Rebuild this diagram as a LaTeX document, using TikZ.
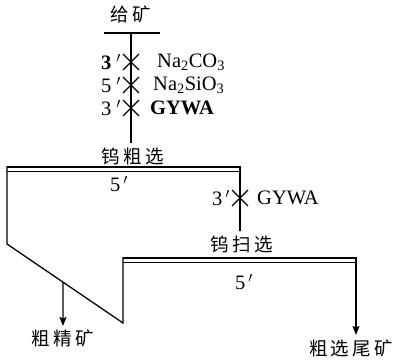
\documentclass[tikz,border=0pt]{standalone}
\usepackage{fontspec}
\setmainfont{Liberation Serif}
\newfontfamily\cjk{Noto Sans CJK SC}[LetterSpace=18]
\usetikzlibrary{arrows.meta,shapes.misc,calc}

\begin{document}
\begin{tikzpicture}[
  x=1pt,y=-1pt, font=\fontsize{20.5}{24}\selectfont, line cap=butt,
  pipe/.style   ={line width=1.3pt},
  pipeout/.style={pipe, -{Stealth[length=9pt,width=7pt,inset=1.5pt]}},
  bartop/.style ={line width=2.2pt},
  barbot/.style ={line width=1.4pt},
  addx/.style   ={draw, cross out, line width=1.3pt, minimum size=14.5pt, inner sep=0pt},
  cn/.style     ={font=\fontsize{18.5}{22}\selectfont\cjk, inner sep=0pt},
  lbl/.style    ={inner sep=0pt},
]

\useasboundingbox (0,0) rectangle (396,359);

% ----- feed and reagents ------------------------------------------------
\node[cn] (feed) at (131,14) {给矿};
\coordinate (feedL) at (104,33);
\coordinate (feedR) at (160,33);
\coordinate (feedM) at (131,33);
\coordinate (roughIn) at (131,143);
\draw[pipe] (feedL) -- (feedR);
\draw[pipe] (feedM) -- (roughIn);

\foreach \y/\tm/\rg/\xr [count=\i] in
    {62/{\bfseries 3}/{Na\textsubscript{2}CO\textsubscript{3}}/157,
     85/5/{Na\textsubscript{2}SiO\textsubscript{3}}/153,
     108/3/{\bfseries GYWA}/150}{
  \node[addx] (add\i) at (131,\y) {};
  \node[lbl,anchor=east] (time\i) at (121,\y) {\tm\hspace{5pt}$'$};
  \node[lbl,anchor=west] (reag\i) at (\xr,\y) {\rg};
}

% ----- tungsten roughing ------------------------------------------------
\node[cn] (rough) at (133,156) {钨粗选};
\draw[bartop] (7,167) -- (240,167);
\draw[barbot] (7,171.5) -- (240,171.5);
\node[lbl] (roughT) at (119,184) {5\hspace{3pt}$'$};

\coordinate (rL)  at (7,166);
\coordinate (rLb) at (7,244);
\coordinate (rTip) at (123,323);
\coordinate (sL)  at (123,257);
\draw[pipe] (rL) -- (rLb) -- (rTip) -- (sL);

% concentrate off the slope
\coordinate (conc) at ($(rLb)!0.483!(rTip)$);
\node[cn] (roughConc) at (63,338) {粗精矿};
\draw[pipeout] (conc) -- (63,326);

% ----- scavenging -------------------------------------------------------
\coordinate (rR)  at (240,166);
\coordinate (scIn) at (240,231);
\draw[pipe] (rR) -- (scIn);
\node[addx] (add4) at (240,198) {};
\node[lbl,anchor=east] (time4) at (230,198) {3\hspace{3pt}$'$};
\node[lbl,anchor=west] (reag4) at (257,198) {GYWA};

\node[cn] (scav) at (242,244) {钨扫选};
\draw[bartop] (123,258) -- (356,258);
\draw[barbot] (123,262.5) -- (356,262.5);
\node[lbl] (scavT) at (244,282) {5\hspace{3pt}$'$};

\coordinate (sR) at (356,257);
\node[cn] (tail) at (351,348) {粗选尾矿};
\draw[pipeout] (sR) -- (356,335);

\end{tikzpicture}
\end{document}
